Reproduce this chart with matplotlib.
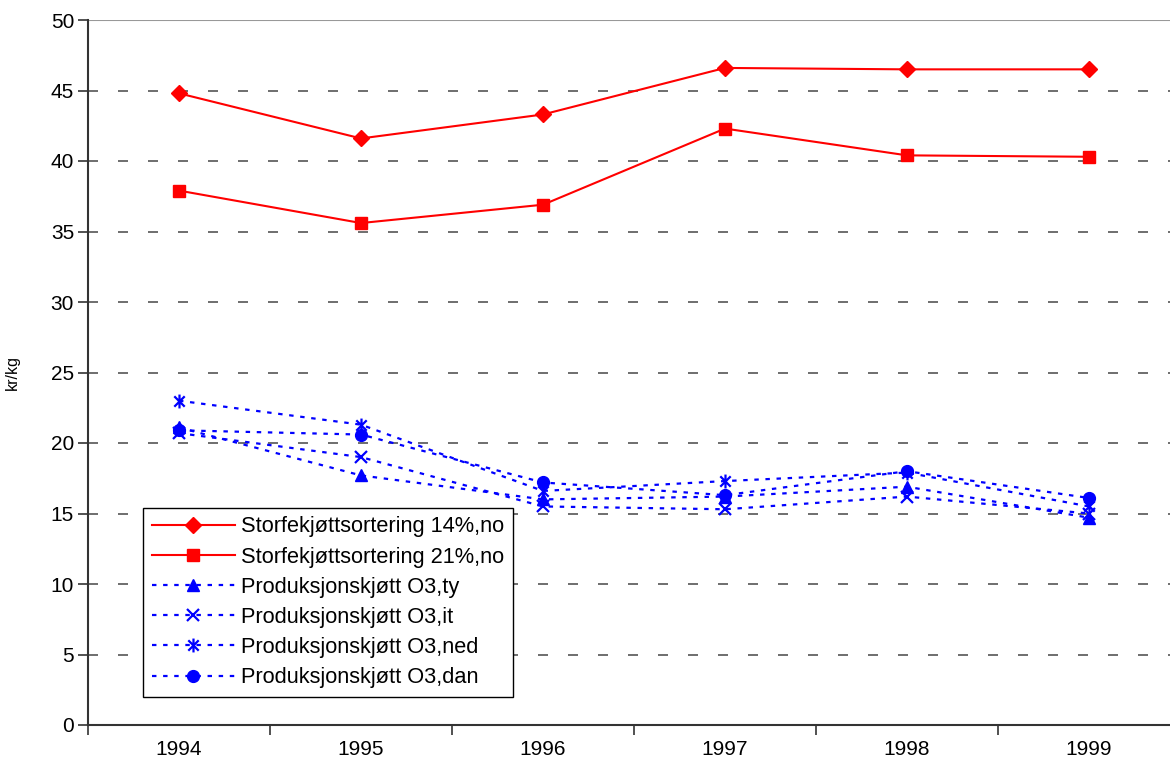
import matplotlib
matplotlib.use("Agg")
import matplotlib.pyplot as plt
from matplotlib.path import Path
import numpy as np

plt.rcParams['font.family'] = ['Liberation Sans', 'DejaVu Sans']

years = ["1994", "1995", "1996", "1997", "1998", "1999"]
storfe14 = [44.8, 41.6, 43.3, 46.6, 46.5, 46.5]
storfe21 = [37.9, 35.6, 36.9, 42.3, 40.4, 40.3]
prod_ty = [21.1, 17.7, 16.0, 16.2, 16.9, 14.7]
prod_it = [20.7, 19.0, 15.5, 15.3, 16.2, 15.0]
prod_ned = [23.0, 21.3, 16.6, 17.3, 17.9, 15.5]
prod_dan = [20.9, 20.6, 17.2, 16.3, 18.0, 16.1]
labels = ["Storfekjøttsortering 14%,no", "Storfekjøttsortering 21%,no",
          "Produksjonskjøtt O3,ty", "Produksjonskjøtt O3,it",
          "Produksjonskjøtt O3,ned", "Produksjonskjøtt O3,dan"]
yticks = [0, 5, 10, 15, 20, 25, 30, 35, 40, 45, 50]

star = Path([(0, -1), (0, 1), (-0.75, -0.75), (0.75, 0.75), (-0.75, 0.75), (0.75, -0.75)],
            [Path.MOVETO, Path.LINETO, Path.MOVETO, Path.LINETO, Path.MOVETO, Path.LINETO])

fig = plt.figure(figsize=(11.70, 7.67), dpi=100)
ax = fig.add_axes([88/1170, 1-725/767, 1092/1170, 705/767])

x = np.arange(len(years))
red = '#FF0000'
blue = '#0000FF'
dot = (0, (2, 3))

ax.plot(x, storfe14, color=red, lw=1.5, marker='D', ms=8, mec=red, mfc=red, label=labels[0], zorder=5)
ax.plot(x, storfe21, color=red, lw=1.5, marker='s', ms=8, mec=red, mfc=red, label=labels[1], zorder=5)
ax.plot(x, prod_ty, color=blue, lw=1.6, ls=dot, marker='^', ms=9, mec=blue, mfc=blue, label=labels[2], zorder=5)
ax.plot(x, prod_it, color=blue, lw=1.6, ls=dot, marker='x', ms=9, mew=1.6, mec=blue, label=labels[3], zorder=5)
ax.plot(x, prod_ned, color=blue, lw=1.6, ls=dot, marker=star, ms=10, mew=1.6, mec=blue, label=labels[4], zorder=5)
ax.plot(x, prod_dan, color=blue, lw=1.6, ls=dot, marker='o', ms=8.5, mec=blue, mfc=blue, label=labels[5], zorder=5)

ax.set_xlim(-0.5, len(years) - 0.5)
ax.set_ylim(0, 50)
ax.set_yticks(yticks)
ax.set_yticklabels([str(v) for v in yticks], fontsize=15)
ax.set_xticks(x)
ax.set_xticklabels(years, fontsize=15)
ax.set_xticks(np.arange(-0.5, len(years), 1.0), minor=True)
ax.tick_params(axis='x', which='major', length=0, pad=11)
ax.tick_params(axis='x', which='minor', length=7, width=1.2, color='#333333')
ax.tick_params(axis='y', length=7, width=1.2, color='#333333', pad=3)

for v in yticks[1:-1]:
    ax.axhline(v, color='#555555', lw=1.2, ls=(0, (6, 12)), zorder=1)
ax.axhline(50, color='#999999', lw=1.5, zorder=1)

for s in ['top', 'right']:
    ax.spines[s].set_visible(False)
ax.spines['left'].set_color('#333333')
ax.spines['left'].set_linewidth(1.5)
ax.spines['bottom'].set_color('#333333')
ax.spines['bottom'].set_linewidth(1.5)

ax.set_ylabel("kr/kg", fontsize=11.5)
ax.yaxis.set_label_coords(-0.062, 0.5)

leg = ax.legend(loc='lower left', bbox_to_anchor=((143-88)/1092, (725-697)/705),
                fontsize=15.7, handlelength=3.8, handletextpad=0.3, labelspacing=0.42,
                borderpad=0.4, borderaxespad=0, fancybox=False, framealpha=1)
leg.get_frame().set_edgecolor('#000000')
leg.get_frame().set_linewidth(1.0)

fig.savefig("out.png", dpi=100)
